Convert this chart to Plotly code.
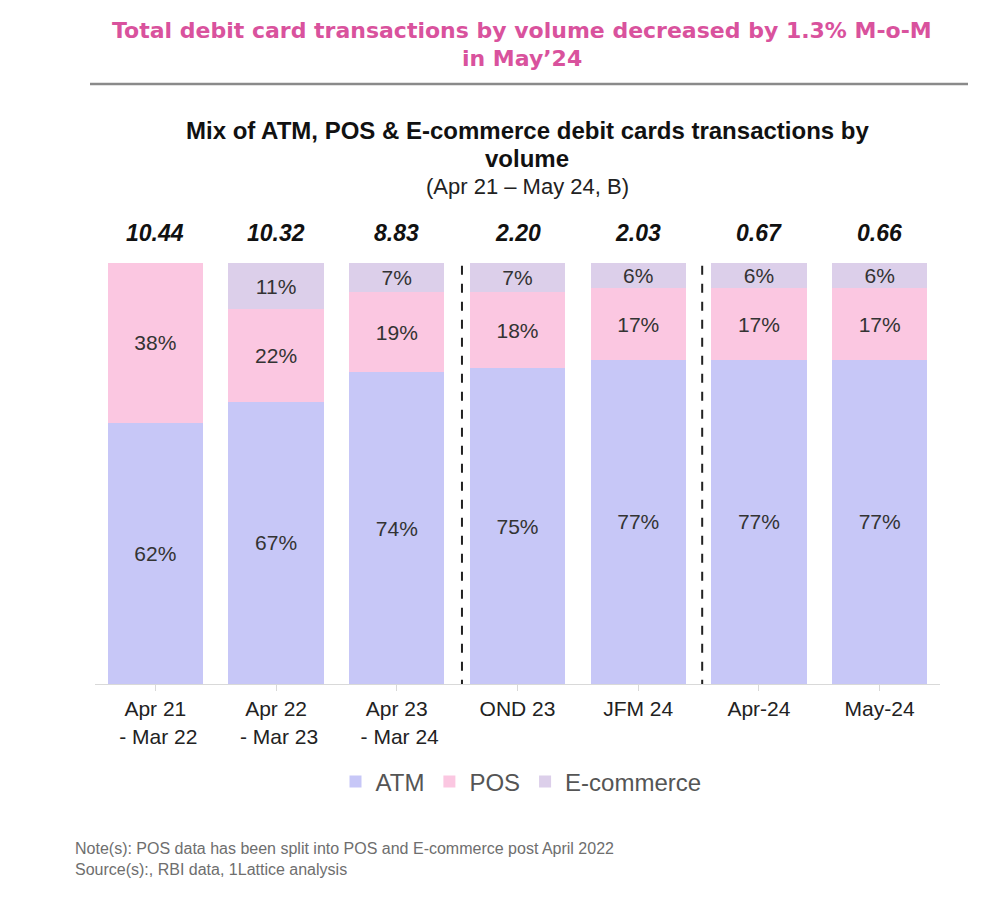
import plotly.graph_objects as go

categories = ["Apr 21<br> - Mar 22", "Apr 22<br> - Mar 23", "Apr 23<br> - Mar 24",
              "OND 23", "JFM 24", "Apr-24", "May-24"]
atm = [62, 67, 74, 75, 77, 77, 77]
pos = [38, 22, 19, 18, 17, 17, 17]
ecom = [0, 11, 7, 7, 6, 6, 6]
totals = ["10.44", "10.32", "8.83", "2.20", "2.03", "0.67", "0.66"]

colors = {"ATM": "#c7c7f7", "POS": "#fbc7e1", "E-commerce": "#dccfea"}
FONT = "Liberation Sans, Arial"
txt_font = dict(family=FONT, size=21, color="#333333")

fig = go.Figure()
for name, vals in [("ATM", atm), ("POS", pos), ("E-commerce", ecom)]:
    fig.add_trace(go.Bar(
        x=list(range(len(categories))), y=vals, name=name,
        marker=dict(color=colors[name], line=dict(width=0)),
        text=[f"{v}%" if v > 0 else "" for v in vals],
        textposition="inside", insidetextanchor="middle", textangle=0,
        textfont=txt_font, hoverinfo="skip",
    ))

for i, t in enumerate(totals):
    fig.add_annotation(x=i, y=100, xref="x", yref="y", text=f"<b><i>{t}</i></b>",
                       showarrow=False, yshift=30, yanchor="middle",
                       font=dict(family=FONT, size=23, color="#111111"))

for xv in [2.54, 4.53]:
    fig.add_shape(type="line", xref="x", yref="y", x0=xv, x1=xv, y0=-9.7, y1=108,
                  line=dict(color="#222222", width=2, dash="dash"))

W, H = 983, 902
# page has an 8px body offset; plot area in screenshot pixels: x 95..940, y 263..684
OFF = 8
def py(pix):
    top, bottom = 263, 684
    return (bottom - pix) / (bottom - top)
def px(pix):
    left, right = 95, 940
    return (pix - left) / (right - left)

title_font = dict(family="DejaVu Sans", size=22, color="#d9529d", weight="bold")
fig.add_annotation(x=px(522), y=py(31), xref="paper", yref="paper",
                   text="Total debit card transactions by volume decreased by 1.3% M-o-M",
                   showarrow=False, yanchor="middle", font=title_font)
fig.add_annotation(x=px(522), y=py(59), xref="paper", yref="paper",
                   text="in May’24", showarrow=False, yanchor="middle", font=title_font)
fig.add_shape(type="line", xref="paper", yref="paper", x0=px(90), x1=px(968), y0=py(84), y1=py(84),
              line=dict(color="#8a8a8a", width=2.5))
fig.add_annotation(x=px(527), y=py(130), xref="paper", yref="paper",
                   text="<b>Mix of ATM, POS & E-commerce debit cards transactions by</b>",
                   showarrow=False, yanchor="middle",
                   font=dict(family=FONT, size=24, color="#111111"))
fig.add_annotation(x=px(527), y=py(158), xref="paper", yref="paper",
                   text="<b>volume</b>", showarrow=False, yanchor="middle",
                   font=dict(family=FONT, size=24, color="#111111"))
fig.add_annotation(x=px(527), y=py(186), xref="paper", yref="paper",
                   text="(Apr 21 – May 24, B)", showarrow=False, yanchor="middle",
                   font=dict(family=FONT, size=22, color="#222222"))
fig.add_annotation(x=px(73), y=py(859), xref="paper", yref="paper",
                   text="Note(s): POS data has been split into POS and E-commerce post April 2022<br>Source(s):, RBI data, 1Lattice analysis",
                   showarrow=False, align="left", xanchor="left", yanchor="middle",
                   font=dict(family=FONT, size=16, color="#6e6e6e"))

fig.update_layout(
    width=W, height=H, barmode="stack", bargap=0.21,
    margin=dict(l=95 - OFF, r=W - (940 - OFF), t=263 - OFF, b=H - (684 - OFF), autoexpand=False),
    paper_bgcolor="white", plot_bgcolor="white",
    uniformtext=dict(minsize=21, mode="show"),
    showlegend=True,
    legend=dict(orientation="h", x=px(521), xanchor="center", y=py(782), yanchor="middle",
                font=dict(family=FONT, size=24, color="#555555"),
                itemsizing="constant", itemwidth=30, traceorder="normal"),
    xaxis=dict(tickmode="array", tickvals=list(range(len(categories))), ticktext=categories,
               range=[-0.5, 6.5], showline=True, linecolor="#d9d9d9", linewidth=1,
               ticks="outside", tickson="boundaries", tickcolor="#d9d9d9", ticklen=6,
               tickfont=dict(family=FONT, size=21, color="#222222"),
               showgrid=False, fixedrange=True),
    yaxis=dict(range=[0, 100], visible=False, showgrid=False, fixedrange=True),
)

fig.write_html("out.html")
